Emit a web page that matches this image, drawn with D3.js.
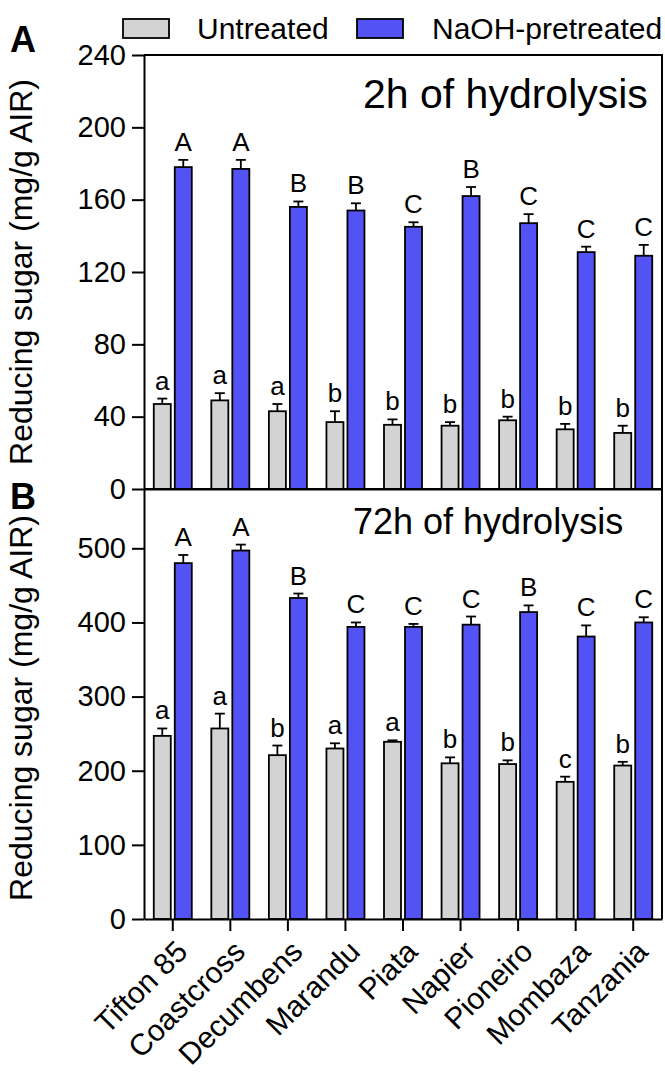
<!DOCTYPE html>
<html>
<head>
<meta charset="utf-8">
<script src="https://cdn.jsdelivr.net/npm/d3@7"></script>
<style>
  html, body { margin: 0; padding: 0; background: #fff; }
  svg { display: block; font-family: "Liberation Sans", Arial, sans-serif; }
</style>
</head>
<body>
<svg id="chart" width="665" height="1075"></svg>
<script>
// Grass cultivars
const categories = ["Tifton 85", "Coastcross", "Decumbens", "Marandu", "Piata", "Napier", "Pioneiro", "Mombaza", "Tanzania"];
const seriesNames = ["Untreated", "NaOH-pretreated"];

// 2 h of hydrolysis (mg/g AIR), mean and SD
const untreated2h = [47, 49, 43, 37, 35.5, 35, 38, 33, 31];
const untreated2hErr = [3, 4, 4, 6, 3, 2, 2, 3, 4];
const pretreated2h = [178, 177, 156, 154, 145, 162, 147, 131, 129];
const pretreated2hErr = [4, 5, 3, 4, 2.5, 5, 5, 3, 6];
const untreated2hLetters = ["a", "a", "a", "b", "b", "b", "b", "b", "b"];
const pretreated2hLetters = ["A", "A", "B", "B", "C", "B", "C", "C", "C"];

// 72 h of hydrolysis (mg/g AIR), mean and SD
const untreated72h = [247, 257, 221, 230, 239, 210, 209, 185, 207];
const untreated72hErr = [10, 20, 13, 7, 2, 8, 5, 7, 5];
const pretreated72h = [480, 497, 433, 394, 394, 397, 414, 381, 400];
const pretreated72hErr = [11, 8, 6, 6, 4, 11, 9, 15, 7];
const untreated72hLetters = ["a", "a", "b", "a", "a", "b", "b", "c", "b"];
const pretreated72hLetters = ["A", "A", "B", "C", "C", "C", "B", "C", "C"];

// Axis ticks
const ticks2h = [0, 40, 80, 120, 160, 200, 240];
const ticks72h = [0, 100, 200, 300, 400, 500];

const colors = ["#d3d3d3", "#5353f5"];
const yTitle = "Reducing sugar (mg/g AIR)";

const svg = d3.select("#chart");
const left = 144, right = 662;

const x = d3.scaleBand().domain(categories).range([left, right]).paddingInner(0).paddingOuter(0);
const xs = d3.scaleBand().domain(seriesNames).range([-19, 19]).paddingInner(4 / 21);

const panels = [
  { label: "A", title: "2h of hydrolysis", titleSize: 41, top: 55, bottom: 489, max: 240, ticks: ticks2h,
    values: [untreated2h, pretreated2h], errs: [untreated2hErr, pretreated2hErr],
    letters: [untreated2hLetters, pretreated2hLetters],
    labelPos: [10, 52], titlePos: [363, 108], yTitleMid: 272, xTicks: false },
  { label: "B", title: "72h of hydrolysis", titleSize: 36, top: 489, bottom: 919, max: 580, ticks: ticks72h,
    values: [untreated72h, pretreated72h], errs: [untreated72hErr, pretreated72hErr],
    letters: [untreated72hLetters, pretreated72hLetters],
    labelPos: [10, 509], titlePos: [353, 534], yTitleMid: 708, xTicks: true }
];

panels.forEach(p => {
  const y = d3.scaleLinear().domain([0, p.max]).range([p.bottom, p.top]);
  const g = svg.append("g");

  // bars, error bars and letters
  seriesNames.forEach((s, si) => {
    const sg = g.append("g");
    categories.forEach((c, i) => {
      const v = p.values[si][i], e = p.errs[si][i];
      const bx = x(c) + x.bandwidth() / 2 + xs(s);
      const bw = xs.bandwidth();
      const cx = bx + bw / 2;
      sg.append("line")
        .attr("x1", cx).attr("x2", cx)
        .attr("y1", y(v)).attr("y2", y(v + e))
        .attr("stroke", "#000").attr("stroke-width", 1.8);
      sg.append("line")
        .attr("x1", cx - 5).attr("x2", cx + 5)
        .attr("y1", y(v + e)).attr("y2", y(v + e))
        .attr("stroke", "#000").attr("stroke-width", 1.8);
      sg.append("rect")
        .attr("x", bx).attr("width", bw)
        .attr("y", y(v)).attr("height", y(0) - y(v))
        .attr("fill", colors[si]).attr("stroke", "#000").attr("stroke-width", 1.8);
      sg.append("text")
        .attr("x", cx).attr("y", y(v + e) - 9)
        .attr("text-anchor", "middle")
        .attr("font-size", 26)
        .text(p.letters[si][i]);
    });
  });

  // frame: top and right edges
  g.append("path")
    .attr("d", `M${left},${p.top}H${right}V${p.bottom}`)
    .attr("fill", "none").attr("stroke", "#000").attr("stroke-width", 2);

  // y axis
  const ya = g.append("g").attr("transform", `translate(${left},0)`)
    .call(d3.axisLeft(y).tickValues(p.ticks).tickSize(12).tickPadding(6).tickSizeOuter(0));
  ya.select(".domain").attr("stroke-width", 2);
  ya.selectAll(".tick line").attr("stroke-width", 2);
  ya.selectAll(".tick text").attr("font-size", 29).attr("font-family", null).attr("fill", "#000");

  // x axis
  const xa = g.append("g").attr("transform", `translate(0,${p.bottom})`)
    .call(d3.axisBottom(x).tickSize(p.xTicks ? 12 : 0).tickSizeOuter(0).tickFormat(p.xTicks ? (d => d) : () => ""));
  xa.select(".domain").attr("stroke-width", 2);
  xa.selectAll(".tick line").attr("stroke-width", 2);
  if (p.xTicks) {
    xa.selectAll(".tick text")
      .attr("font-size", 30).attr("font-family", null).attr("fill", "#000")
      .attr("text-anchor", "end")
      .attr("dy", "0.35em")
      .attr("transform", "translate(9,27) rotate(-45)")
      .attr("y", 0);
  }

  // y title
  g.append("text")
    .attr("transform", `translate(${32},${p.yTitleMid}) rotate(-90)`)
    .attr("text-anchor", "middle")
    .attr("font-size", 32)
    .text(yTitle);

  // panel title
  g.append("text")
    .attr("x", p.titlePos[0]).attr("y", p.titlePos[1])
    .attr("font-size", p.titleSize)
    .text(p.title);

  // panel letter
  g.append("text")
    .attr("x", p.labelPos[0]).attr("y", p.labelPos[1])
    .attr("font-size", 36).attr("font-weight", "bold")
    .text(p.label);
});

// legend
const legend = svg.append("g");
const legendItems = [
  { name: seriesNames[0], rx: 123, tx: 197 },
  { name: seriesNames[1], rx: 357, tx: 432 }
];
legendItems.forEach((d, i) => {
  legend.append("rect")
    .attr("x", d.rx).attr("y", 19).attr("width", 46).attr("height", 19)
    .attr("fill", colors[i]).attr("stroke", "#000").attr("stroke-width", 1.8);
  legend.append("text")
    .attr("x", d.tx).attr("y", 39)
    .attr("font-size", 30)
    .text(d.name);
});
</script>
</body>
</html>
